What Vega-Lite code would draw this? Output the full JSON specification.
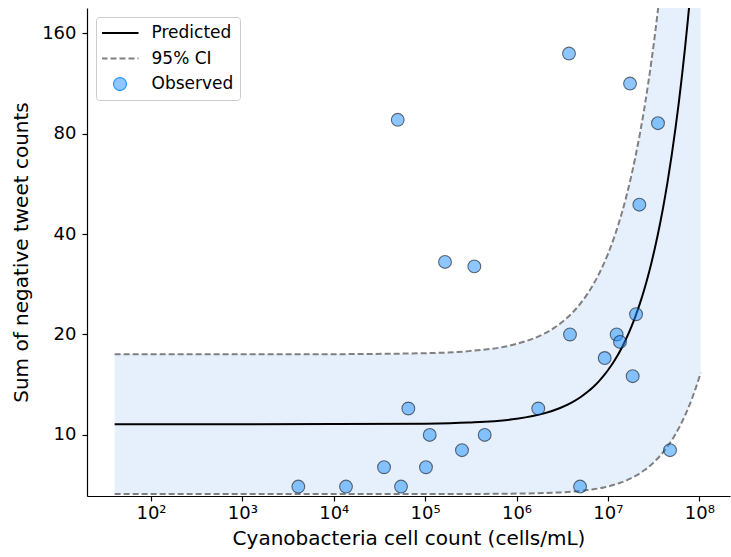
{
  "$schema": "https://vega.github.io/schema/vega-lite/v6.json",
  "width": 643,
  "height": 488,
  "autosize": "none",
  "padding": {"left": 87, "top": 8, "right": 1, "bottom": 61},
  "background": "white",
  "config": {
    "view": {"stroke": null},
    "font": "DejaVu Sans",
    "axis": {
      "domainColor": "#000000", "domainWidth": 1.2, "tickColor": "#000000", "tickWidth": 1.2, "tickSize": 5,
      "labelColor": "#000000", "labelFont": "DejaVu Sans", "labelFontSize": 18,
      "titleColor": "#000000", "titleFont": "DejaVu Sans", "titleFontSize": 20, "titleFontWeight": "normal",
      "grid": false
    }
  },
  "datasets": {
    "curve": [
      {"x": 40, "fit": 10.77, "lower": 6.646, "upper": 17.45},
      {"x": 100, "fit": 10.77, "lower": 6.646, "upper": 17.45},
      {"x": 1000, "fit": 10.77, "lower": 6.646, "upper": 17.45},
      {"x": 10000, "fit": 10.774, "lower": 6.646, "upper": 17.46},
      {"x": 100000, "fit": 10.81, "lower": 6.648, "upper": 17.58},
      {"x": 300000, "fit": 10.891, "lower": 6.653, "upper": 17.83},
      {"x": 1000000, "fit": 11.178, "lower": 6.669, "upper": 18.74},
      {"x": 2000000, "fit": 11.602, "lower": 6.695, "upper": 20.10},
      {"x": 3000000, "fit": 12.042, "lower": 6.726, "upper": 21.56},
      {"x": 4000000, "fit": 12.498, "lower": 6.759, "upper": 23.11},
      {"x": 5000000, "fit": 12.971, "lower": 6.795, "upper": 24.76},
      {"x": 6000000, "fit": 13.463, "lower": 6.833, "upper": 26.52},
      {"x": 7000000, "fit": 13.974, "lower": 6.874, "upper": 28.41},
      {"x": 8000000, "fit": 14.503, "lower": 6.916, "upper": 30.41},
      {"x": 9000000, "fit": 15.053, "lower": 6.961, "upper": 32.55},
      {"x": 10000000, "fit": 15.623, "lower": 7.006, "upper": 34.84},
      {"x": 12000000, "fit": 16.829, "lower": 7.102, "upper": 39.88},
      {"x": 14000000, "fit": 18.130, "lower": 7.204, "upper": 45.63},
      {"x": 16000000, "fit": 19.531, "lower": 7.310, "upper": 52.18},
      {"x": 18000000, "fit": 21.039, "lower": 7.420, "upper": 59.66},
      {"x": 20000000, "fit": 22.664, "lower": 7.534, "upper": 68.18},
      {"x": 22500000, "fit": 24.872, "lower": 7.681, "upper": 80.54},
      {"x": 25000000, "fit": 27.297, "lower": 7.834, "upper": 95.11},
      {"x": 27500000, "fit": 29.957, "lower": 7.992, "upper": 112.28},
      {"x": 30000000, "fit": 32.877, "lower": 8.157, "upper": 132.52},
      {"x": 32500000, "fit": 36.082, "lower": 8.325, "upper": 156.39},
      {"x": 35000000, "fit": 39.598, "lower": 8.499, "upper": 184.50},
      {"x": 37500000, "fit": 43.458, "lower": 8.677, "upper": 217.66},
      {"x": 40000000, "fit": 47.693, "lower": 8.860, "upper": 256.73},
      {"x": 45000000, "fit": 57.442, "lower": 9.242, "upper": 357.0},
      {"x": 50000000, "fit": 69.183, "lower": 9.643, "upper": 496.3},
      {"x": 55000000, "fit": 83.33, "lower": 10.064, "upper": 690},
      {"x": 60000000, "fit": 100.36, "lower": 10.506, "upper": 958.7},
      {"x": 65000000, "fit": 120.87, "lower": 10.970, "upper": 1332},
      {"x": 70000000, "fit": 145.58, "lower": 11.456, "upper": 1850},
      {"x": 75000000, "fit": 175.35, "lower": 11.964, "upper": 2570},
      {"x": 80000000, "fit": 211.2, "lower": 12.498, "upper": 3569},
      {"x": 85000000, "fit": 254.4, "lower": 13.057, "upper": 4956},
      {"x": 90000000, "fit": 306.4, "lower": 13.640, "upper": 6883},
      {"x": 95000000, "fit": 369.0, "lower": 14.251, "upper": 9555},
      {"x": 100000000, "fit": 444.4, "lower": 14.888, "upper": 13265},
      {"x": 103500000, "fit": 506.1, "lower": 15.35, "upper": 16686}
    ],
    "obs": [
      {"x": 4093, "y": 7}, {"x": 13610, "y": 7}, {"x": 35480, "y": 8}, {"x": 54450, "y": 7},
      {"x": 65460, "y": 12}, {"x": 112200, "y": 10}, {"x": 102100, "y": 8}, {"x": 252900, "y": 9},
      {"x": 448400, "y": 10}, {"x": 164900, "y": 33}, {"x": 345300, "y": 32}, {"x": 50120, "y": 88},
      {"x": 1729000, "y": 12}, {"x": 4955000, "y": 7}, {"x": 47860000, "y": 9}, {"x": 3750000, "y": 139},
      {"x": 17460000, "y": 113}, {"x": 35320000, "y": 86}, {"x": 22080000, "y": 49}, {"x": 20320000, "y": 23},
      {"x": 3846000, "y": 20}, {"x": 12470000, "y": 20}, {"x": 13560000, "y": 19}, {"x": 9226000, "y": 17},
      {"x": 18660000, "y": 15}
    ]
  },
  "encoding": {
    "x": {
      "field": "x", "type": "quantitative",
      "scale": {"type": "log", "domain": [19.93, 216800000], "nice": false},
      "axis": {
        "title": "Cyanobacteria cell count (cells/mL)",
        "values": [100, 1000, 10000, 100000, 1000000, 10000000, 100000000],
        "labelExpr": "'10' + substring('⁰¹²³⁴⁵⁶⁷⁸⁹', round(log(datum.value)/LN10), round(log(datum.value)/LN10) + 1)",
        "labelPadding": 3, "titlePadding": 6, "labelFlush": false, "labelOverlap": false
      }
    }
  },
  "layer": [
    {
      "data": {"name": "curve"},
      "mark": {"type": "area", "color": "#e6f0fd", "opacity": 1, "clip": true, "interpolate": "monotone"},
      "encoding": {
        "y": {
          "field": "lower", "type": "quantitative",
          "scale": {"type": "log", "domain": [6.56, 190.4], "nice": false, "zero": false},
          "axis": {
            "title": "Sum of negative tweet counts",
            "values": [10, 20, 40, 80, 160], "format": "d",
            "labelPadding": 6, "titlePadding": 10
          }
        },
        "y2": {"field": "upper"}
      }
    },
    {
      "data": {"name": "curve"},
      "mark": {"type": "line", "strokeWidth": 2, "strokeDash": [6, 3], "clip": true, "interpolate": "monotone"},
      "encoding": {
        "y": {"field": "lower", "type": "quantitative"},
        "color": {
          "datum": "95% CI",
          "scale": {"domain": ["Predicted", "95% CI", "Observed"], "range": ["#000000", "#808080", "#1e90ff"]},
          "legend": {
            "title": null, "orient": "top-left", "offset": 9,
            "symbolSize": 1369, "clipHeight": 20, "rowPadding": 5.5, "labelOffset": 23, "symbolOffset": 9.5, "padding": 6,
            "labelFont": "DejaVu Sans", "labelFontSize": 17, "labelColor": "#000000", "labelLimit": 300,
            "fillColor": "rgba(255,255,255,0.8)", "strokeColor": "#cccccc", "cornerRadius": 3,
            "encode": {
              "symbols": {
                "update": {
                  "shape": {"signal": "datum.value === 'Observed' ? 'circle' : 'stroke'"},
                  "size": {"signal": "datum.value === 'Observed' ? 165 : 1369"},
                  "strokeWidth": {"signal": "datum.value === 'Observed' ? 1.2 : 2"},
                  "strokeDash": {"signal": "datum.value === '95% CI' ? [6, 3] : [1, 0]"},
                  "opacity": {"value": 1},
                  "fillOpacity": {"signal": "datum.value === 'Observed' ? 0.5 : 1"},
                  "strokeOpacity": {"signal": "datum.value === 'Observed' ? 0.9 : 1"}
                }
              }
            }
          }
        }
      }
    },
    {
      "data": {"name": "curve"},
      "mark": {"type": "line", "strokeWidth": 2, "strokeDash": [6, 3], "clip": true, "interpolate": "monotone"},
      "encoding": {"y": {"field": "upper", "type": "quantitative"}, "color": {"datum": "95% CI"}}
    },
    {
      "data": {"name": "curve"},
      "mark": {"type": "line", "strokeWidth": 2, "clip": true, "interpolate": "monotone"},
      "encoding": {"y": {"field": "fit", "type": "quantitative"}, "color": {"datum": "Predicted"}}
    },
    {
      "data": {"name": "obs"},
      "mark": {"type": "point", "filled": true, "size": 165, "opacity": 1, "fillOpacity": 0.5, "stroke": "#000000", "strokeOpacity": 0.55, "strokeWidth": 1.1},
      "encoding": {
        "y": {"field": "y", "type": "quantitative"},
        "color": {"datum": "Observed"}
      }
    }
  ]
}
